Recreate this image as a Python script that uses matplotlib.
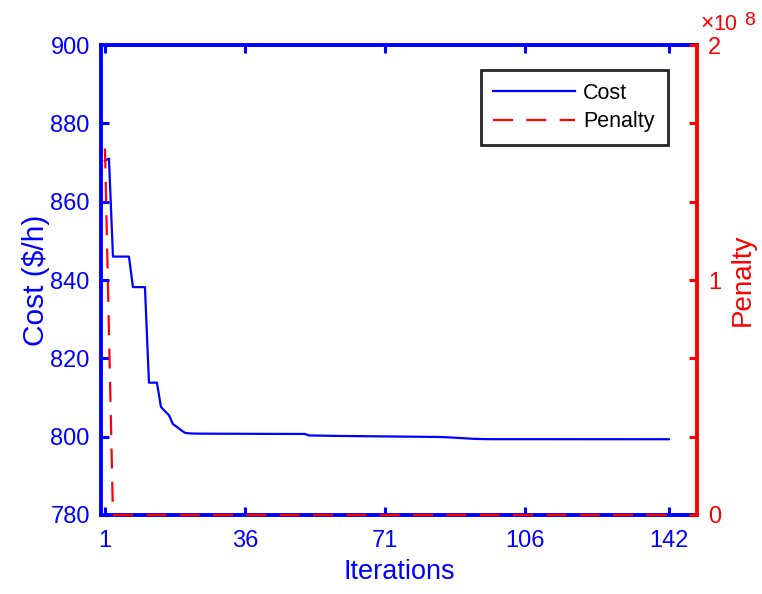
import matplotlib
matplotlib.use("Agg")
import matplotlib.pyplot as plt

plt.rcParams["font.family"] = ["Liberation Sans", "DejaVu Sans"]

BLUE = "#0000ff"
RED = "#ff0000"

# cost per iteration ($/h)
cost = [
    870.5, 871.0, 846.0, 846.0, 846.0, 846.0, 846.0, 838.2, 838.2, 838.2,
    838.2, 813.8, 813.8, 813.8, 807.6, 806.5, 805.5, 803.2, 802.5, 801.7,
    801.0, 800.85, 800.8, 800.78, 800.78, 800.77, 800.77, 800.76, 800.76, 800.76,
    800.75, 800.75, 800.75, 800.74, 800.74, 800.74, 800.73, 800.73, 800.73, 800.72,
    800.72, 800.72, 800.72, 800.71, 800.71, 800.71, 800.7, 800.7, 800.7, 800.7,
    800.7, 800.32, 800.3, 800.28, 800.27, 800.25, 800.24, 800.22, 800.2, 800.19,
    800.18, 800.16, 800.15, 800.14, 800.13, 800.12, 800.11, 800.1, 800.09, 800.08,
    800.06, 800.05, 800.04, 800.03, 800.02, 800.01, 800.0, 799.99, 799.98, 799.97,
    799.96, 799.95, 799.94, 799.93, 799.92, 799.88, 799.82, 799.76, 799.7, 799.64,
    799.58, 799.52, 799.47, 799.43, 799.4, 799.38, 799.37, 799.36, 799.36, 799.35,
    799.35, 799.35, 799.35, 799.35, 799.35, 799.35, 799.35, 799.35, 799.35, 799.35,
    799.35, 799.35, 799.35, 799.35, 799.35, 799.35, 799.35, 799.35, 799.35, 799.35,
    799.35, 799.35, 799.35, 799.35, 799.35, 799.35, 799.35, 799.35, 799.35, 799.35,
    799.35, 799.35, 799.35, 799.35, 799.35, 799.35, 799.35, 799.35, 799.35, 799.35,
    799.35, 799.35,
]
# penalty per iteration: large at the start, zero from iteration 3 on
penalty = [1.56e8, 0.78e8] + [0.0] * 140
iters = list(range(1, len(cost) + 1))

x_ticks = [1, 36, 71, 106, 142]
cost_ticks = [780, 800, 820, 840, 860, 880, 900]
pen_ticks = [0, 1e8 / 3, 2e8 / 3, 1e8, 4e8 / 3, 5e8 / 3, 2e8]
pen_labels = ["0", "", "", "1", "", "", "2"]

fig = plt.figure(figsize=(7.62, 5.94), dpi=100)
ax1 = fig.add_axes([0.1325, 0.133, 0.782, 0.791])
ax2 = ax1.twinx()

l1, = ax1.plot(iters, cost, color=BLUE, lw=1.6, label="Cost")
l2, = ax2.plot(iters, penalty, color=RED, lw=1.6, dashes=(9, 6),
               label="Penalty", clip_on=False)

ax1.set_xlim(0, 149)
ax1.set_ylim(780, 900)
ax2.set_ylim(0, 2e8)
ax1.set_xticks(x_ticks)
ax1.set_yticks(cost_ticks)
ax2.set_yticks(pen_ticks)
ax2.set_yticklabels(pen_labels)

spw = 2.8
for s in ("left", "top", "bottom"):
    ax1.spines[s].set_color(BLUE)
    ax1.spines[s].set_linewidth(spw)
ax1.spines["right"].set_visible(False)
for s in ("left", "top", "bottom"):
    ax2.spines[s].set_visible(False)
ax2.spines["right"].set_color(RED)
ax2.spines["right"].set_linewidth(spw)

ax1.tick_params(axis="both", direction="in", length=6, width=2.2,
                color=BLUE, labelcolor=BLUE, labelsize=17, pad=8)
ax1.tick_params(axis="x", top=True, pad=11)
ax1.tick_params(axis="y", right=False)
ax2.tick_params(axis="y", direction="in", length=6, width=2.2,
                color=RED, labelcolor=RED, labelsize=17, pad=8)

ax1.set_xlabel("Iterations", color=BLUE, fontsize=19.5, labelpad=5)
ax1.set_ylabel("Cost ($/h)", color=BLUE, fontsize=21.5, labelpad=0)
ax2.set_ylabel("Penalty", color=RED, fontsize=20, labelpad=6)

# exponent note above the right axis
ax2.text(1.006, 1.032, "\u00d7", transform=ax2.transAxes,
         color=RED, fontsize=16.5, ha="left", va="baseline")
ax2.text(1.0285, 1.032, "10", transform=ax2.transAxes,
         color=RED, fontsize=15.5, ha="left", va="baseline")
ax2.text(1.079, 1.0426, "8", transform=ax2.transAxes,
         color=RED, fontsize=14, ha="left", va="baseline")

leg = ax2.legend([l1, l2], ["Cost", "Penalty"], loc="upper right",
                 bbox_to_anchor=(0.951, 0.947), borderaxespad=0,
                 fontsize=15.5, frameon=True,
                 fancybox=False, framealpha=1, edgecolor="#262626",
                 handlelength=3.8, handletextpad=0.37, borderpad=0.6,
                 labelspacing=0.35)
leg.get_frame().set_linewidth(2.0)

fig.savefig("out.png", dpi=100)
